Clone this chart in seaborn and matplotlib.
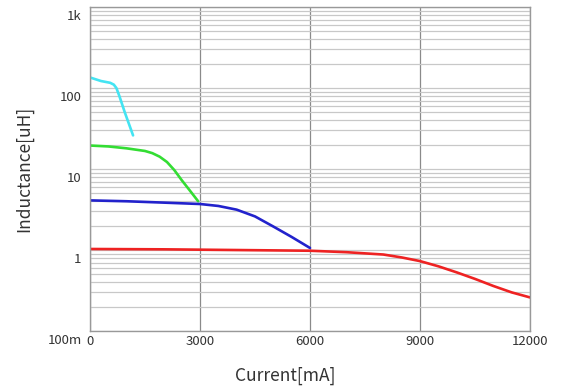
import numpy as np
import pandas as pd
import seaborn as sns
import matplotlib.pyplot as plt
import matplotlib.transforms as mtransforms
from matplotlib.ticker import LogLocator, NullFormatter

# 曲线数据 (电流 mA, 电感 uH)
cyan_x = [0, 300, 550, 650, 720, 800, 950, 1175]
cyan_y = [135, 122, 116, 110, 100, 80, 50, 26]
green_x = [0, 500, 1000, 1500, 1700, 1900, 2100, 2300, 2500, 2700, 2950]
green_y = [19.5, 19, 18, 16.7, 15.7, 14.2, 12.2, 9.7, 7.3, 5.6, 4.0]
blue_x = [0, 1000, 2000, 3000, 3500, 4000, 4500, 5000, 5500, 6000]
blue_y = [4.1, 4.0, 3.85, 3.7, 3.5, 3.15, 2.6, 1.95, 1.45, 1.06]
red_x = [0, 2000, 4000, 6000, 7000, 8000, 8500, 9000, 9500, 10000, 10500, 11000, 11500, 12000]
red_y = [1.03, 1.02, 1.0, 0.98, 0.94, 0.88, 0.81, 0.73, 0.63, 0.53, 0.44, 0.36, 0.30, 0.26]

x_ticks = [0, 3000, 6000, 9000, 12000]
y_ticks = [0.1, 1, 10, 100, 1000]
y_ticklabels = ["100m", "1", "10", "100", "1k"]

series = {"cyan": (cyan_x, cyan_y), "green": (green_x, green_y),
          "blue": (blue_x, blue_y), "red": (red_x, red_y)}
palette = {"cyan": "#44e4f2", "green": "#33dd33", "blue": "#2222cc", "red": "#ee2222"}

df = pd.concat([pd.DataFrame({"current": x, "inductance": y, "curve": name})
                for name, (x, y) in series.items()], ignore_index=True)

sns.set_style("white")
plt.rcParams['font.family'] = ['Noto Sans CJK JP', 'DejaVu Sans']

fig = plt.figure(figsize=(5.79, 3.89), dpi=100)
ax = fig.add_axes([0.1554, 0.149, 0.76, 0.833])

sns.lineplot(data=df, x="current", y="inductance", hue="curve", palette=palette,
             linewidth=1.9, legend=False, sort=False, estimator=None, ax=ax)

ax.set_yscale("log")
ax.set_xlim(0, 12000)
ax.set_ylim(0.1, 1000)

ax.set_xticks(x_ticks)
ax.set_xticklabels([str(t) for t in x_ticks])
ax.set_yticks(y_ticks)
ax.set_yticklabels(y_ticklabels)
ax.yaxis.set_minor_locator(LogLocator(base=10, subs=np.arange(2, 10), numticks=20))
ax.yaxis.set_minor_formatter(NullFormatter())

ax.tick_params(axis="both", which="both", length=0, labelsize=9.5, labelcolor="#333333")
ax.tick_params(axis="y", pad=6)
ax.tick_params(axis="x", pad=3)

# y轴标签略微下移
offset = mtransforms.ScaledTranslation(0, -6 / 72, fig.dpi_scale_trans)
for lbl in ax.get_yticklabels():
    lbl.set_transform(lbl.get_transform() + offset)

ax.grid(False)
ax.yaxis.grid(True, which="both", color="#c8c8c8", linewidth=0.9)
ax.xaxis.grid(True, which="major", color="#8a8a8a", linewidth=0.9)
ax.set_axisbelow(True)

for sp in ax.spines.values():
    sp.set_color("#999999")
    sp.set_linewidth(1.0)

ax.set_xlabel("Current[mA]", fontsize=12.5, color="#333333")
ax.set_ylabel("Inductance[uH]", fontsize=12.5, color="#333333")
ax.xaxis.set_label_coords(0.443, -0.11)
ax.yaxis.set_label_coords(-0.128, 0.5)

fig.savefig("out.png", dpi=100)
